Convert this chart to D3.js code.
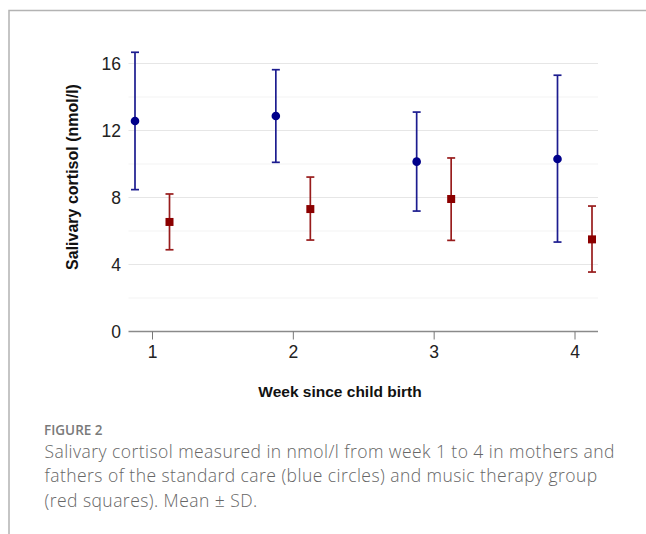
<!DOCTYPE html>
<html>
<head>
<meta charset="utf-8">
<script src="https://cdn.jsdelivr.net/npm/d3@7/dist/d3.min.js"></script>
<style>
  body { margin: 0; background: #fff; }
  svg { display: block; }
</style>
</head>
<body>
<svg id="chart" width="646" height="534"></svg>
<script>
// weeks since birth
var weeks = [1, 2, 3, 4];

// standard care (blue circles): mean, mean - SD, mean + SD
var careMean = [12.57, 12.87, 10.14, 10.30];
var careLow  = [8.47, 10.10, 7.19, 5.34];
var careHigh = [16.67, 15.63, 13.10, 15.30];

// music therapy (red squares)
var musicMean = [6.54, 7.31, 7.91, 5.50];
var musicLow  = [4.88, 5.46, 5.44, 3.55];
var musicHigh = [8.21, 9.22, 10.36, 7.49];

var yTicks = [0, 4, 8, 12, 16];
var yMinor = [2, 6, 10, 14];

var captionHead = 'FIGURE 2';
var captionLines = [
  'Salivary cortisol measured in nmol/l from week 1 to 4 in mothers and',
  'fathers of the standard care (blue circles) and music therapy group',
  '(red squares). Mean \u00B1 SD.'
];

var svg = d3.select('#chart');

// frame around the figure
svg.append('path')
  .attr('d', 'M9,534 V10.5 H646')
  .attr('fill', 'none')
  .attr('stroke', '#b3b3b3')
  .attr('stroke-width', 1.5);

var x = d3.scaleLinear().domain([1, 4]).range([152, 574.5]);
var y = d3.scaleLinear().domain([0, 16]).range([331.5, 63.5]);
var x0 = 128.5, x1 = 598;

// grid
svg.selectAll('.minor').data(yMinor).enter().append('line')
  .attr('x1', x0).attr('x2', x1)
  .attr('y1', function(d) { return y(d); })
  .attr('y2', function(d) { return y(d); })
  .attr('stroke', '#f3f3f3').attr('stroke-width', 1);

svg.selectAll('.major').data(yTicks.slice(1)).enter().append('line')
  .attr('x1', x0).attr('x2', x1)
  .attr('y1', function(d) { return y(d); })
  .attr('y2', function(d) { return y(d); })
  .attr('stroke', '#e6e6e6').attr('stroke-width', 1.2);

// y tick labels
svg.selectAll('.ylab').data(yTicks).enter().append('text')
  .attr('x', 121)
  .attr('y', function(d) { return y(d); })
  .attr('dy', '0.35em')
  .attr('text-anchor', 'end')
  .style('font-family', 'Liberation Sans, Arial, sans-serif')
  .style('font-size', '17.5px')
  .attr('fill', '#222')
  .text(function(d) { return d; });

// x axis
var xAxis = d3.axisBottom(x)
  .tickValues(weeks)
  .tickFormat(d3.format('d'))
  .tickSize(8)
  .tickSizeOuter(0)
  .tickPadding(6);

var gx = svg.append('g')
  .attr('transform', 'translate(0,' + y(0) + ')')
  .call(xAxis);
gx.select('.domain').remove();
gx.insert('line', ':first-child')
  .attr('x1', x0).attr('x2', x1)
  .attr('stroke', '#8a8a8a').attr('stroke-width', 1.5);
gx.selectAll('.tick line').attr('stroke', '#777').attr('stroke-width', 1);
gx.selectAll('.tick text')
  .style('font-family', 'Liberation Sans, Arial, sans-serif')
  .style('font-size', '17.5px')
  .attr('fill', '#222');

// axis titles
svg.append('text')
  .attr('x', 340).attr('y', 397)
  .attr('text-anchor', 'middle')
  .style('font-family', 'Liberation Sans, Arial, sans-serif')
  .style('font-size', '15.5px')
  .style('font-weight', 'bold')
  .attr('fill', '#111')
  .text('Week since child birth');

svg.append('text')
  .attr('transform', 'translate(72,177) rotate(-90)')
  .attr('text-anchor', 'middle')
  .attr('dy', '0.35em')
  .style('font-family', 'Liberation Sans, Arial, sans-serif')
  .style('font-size', '16px')
  .style('font-weight', 'bold')
  .attr('fill', '#111')
  .text('Salivary cortisol (nmol/l)');

// error bars
function errorBars(cls, mean, low, high, dx, color) {
  var g = svg.append('g').attr('class', cls);
  var rows = weeks.map(function(w, i) {
    return { w: w, m: mean[i], lo: low[i], hi: high[i] };
  });
  var bar = g.selectAll('g').data(rows).enter().append('g')
    .attr('transform', function(d) { return 'translate(' + (x(d.w) + dx) + ',0)'; });
  bar.append('line')
    .attr('y1', function(d) { return y(d.lo); })
    .attr('y2', function(d) { return y(d.hi); })
    .attr('stroke', color).attr('stroke-width', 1.7);
  bar.append('line')
    .attr('x1', -4).attr('x2', 4)
    .attr('y1', function(d) { return y(d.lo); })
    .attr('y2', function(d) { return y(d.lo); })
    .attr('stroke', color).attr('stroke-width', 1.7);
  bar.append('line')
    .attr('x1', -4).attr('x2', 4)
    .attr('y1', function(d) { return y(d.hi); })
    .attr('y2', function(d) { return y(d.hi); })
    .attr('stroke', color).attr('stroke-width', 1.7);
  return bar;
}

var care = errorBars('care', careMean, careLow, careHigh, -17, '#1c1c8f');
care.append('circle')
  .attr('cy', function(d) { return y(d.m); })
  .attr('r', 4.3)
  .attr('fill', '#00008b');

var music = errorBars('music', musicMean, musicLow, musicHigh, 17.5, '#981c1c');
music.append('rect')
  .attr('x', -4).attr('width', 8)
  .attr('y', function(d) { return y(d.m) - 4; })
  .attr('height', 8)
  .attr('fill', '#8b0000');

// caption
svg.append('text')
  .attr('x', 44).attr('y', 435)
  .style('font-family', 'Open Sans, sans-serif')
  .style('font-size', '13.5px')
  .style('font-weight', 600)
  .attr('fill', '#7a7a7a')
  .text(captionHead);

svg.selectAll('.cap').data(captionLines).enter().append('text')
  .attr('x', 44.5)
  .attr('y', function(d, i) { return 457.7 + i * 24.7; })
  .style('font-family', 'Open Sans, sans-serif')
  .style('font-size', '17.5px')
  .style('letter-spacing', '0.45px')
  .style('font-weight', 300)
  .attr('fill', '#666')
  .text(function(d) { return d; });
</script>
</body>
</html>
